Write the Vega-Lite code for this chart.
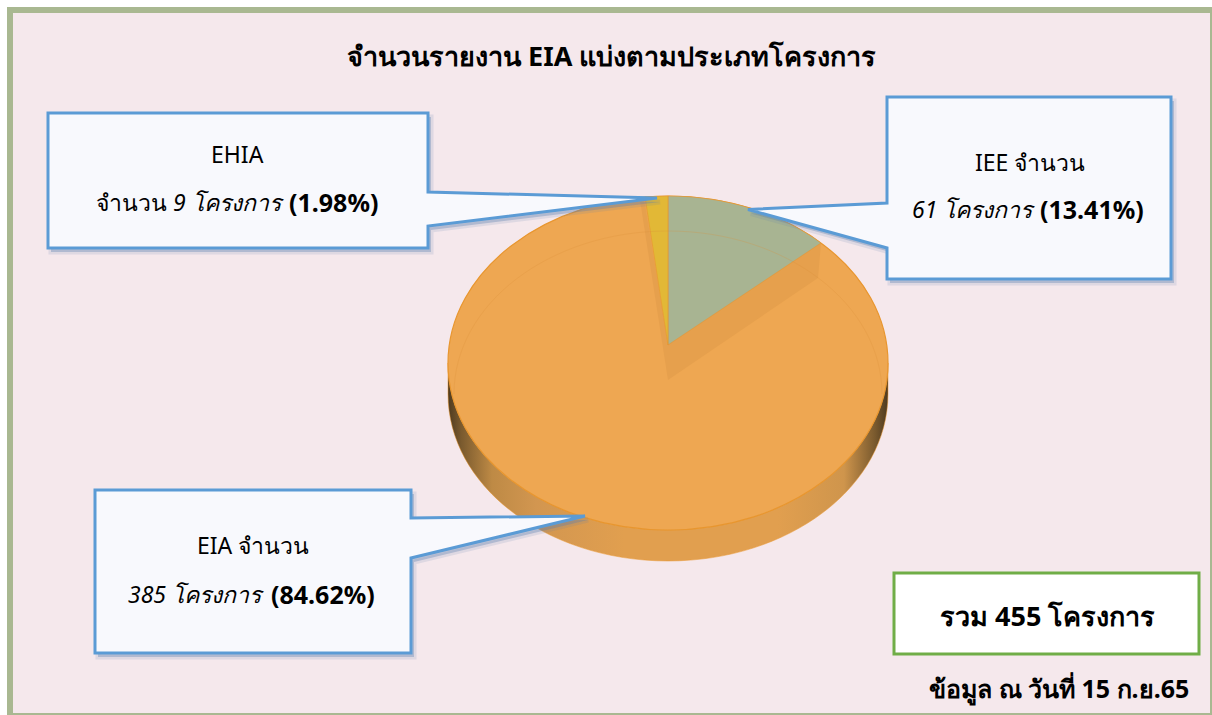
{"$schema":"https://vega.github.io/schema/vega-lite/v6.json","width":1212,"height":715,"autosize":{"type":"none"},"padding":0,"background":"#ffffff","config":{"view":{"stroke":null},"font":"Noto Sans"},
"datasets":{"parts":[
{"part":"frame"},{"part":"side"},{"part":"EIA","value":385,"pct":84.62},{"part":"wallR"},{"part":"wallL"},{"part":"IEE","value":61,"pct":13.41},{"part":"EHIA","value":9,"pct":1.98},{"part":"rim"},
{"part":"shEHIA"},{"part":"shIEE"},{"part":"shEIA"},{"part":"boxEHIA"},{"part":"boxIEE"},{"part":"boxEIA"},{"part":"boxTotal"}],
"texts":[
{"n":1,"s":"h","text":"จำนวนรายงาน EIA แบ่งตามประเภทโครงการ"},
{"n":2,"s":"r","text":"EHIA"},
{"n":3,"s":"r","text":"จำนวน"},
{"n":4,"s":"i","text":"9 โครงการ"},
{"n":5,"s":"b","text":"(1.98%)"},
{"n":6,"s":"r","text":"IEE จำนวน"},
{"n":7,"s":"i","text":"61 โครงการ"},
{"n":8,"s":"b","text":"(13.41%)"},
{"n":9,"s":"r","text":"EIA จำนวน"},
{"n":10,"s":"i","text":"385 โครงการ"},
{"n":11,"s":"b","text":"(84.62%)"},
{"n":12,"s":"t","text":"รวม 455 โครงการ"},
{"n":13,"s":"f","text":"ข้อมูล ณ วันที่ 15 ก.ย.65"}]},
"layer":[
{"data":{"name":"parts"},
"encoding":{"size":{"value":4},"shape":{"field":"part","type":"nominal","legend":null,"scale":{
"domain":["frame","side","EIA","wallR","wallL","IEE","EHIA","rim","shEHIA","shIEE","shEIA","boxEHIA","boxIEE","boxEIA","boxTotal"],
"range":[
"M-596,-347.5H607V358.5H-596Z",
"M-158,5.5A220,167 0 0,0 282,5.5L282,36.5A220,167 0 0,1 -158,36.5Z",
"M-158,5.5A220,167 0 1,1 282,5.5A220,167 0 1,1 -158,5.5Z",
"M62,-12.5L215,-114.5L212,-79.5L62,22.5Z",
"M38,-159.5L62,-12.5L62,22.5L34,-157.5Z",
"M62,-12.5L215,-114.5A220,167 0 0,0 62,-161.5Z",
"M62,-12.5L62,-161.5A220,167 0 0,0 39,-160.5Z",
"M-152,36.5A214,163 0 0,1 276,36.5",
"M-555,-240.5L-175,-240.5L-175,-161.5L54,-155.5L-175,-127.5L-175,-105.5L-555,-105.5Z",
"M284,-256.5L568,-256.5L568,-74.5L284,-74.5L284,-105.5L145,-144L284,-150.5Z",
"M-508,136.5L-192,136.5L-192,164.5L-18,162.5L-192,204.5L-192,299.5L-508,299.5Z",
"M-558,-244.5L-178,-244.5L-178,-165.5L51,-159.5L-178,-131.5L-178,-109.5L-558,-109.5Z",
"M281,-260.5L565,-260.5L565,-78.5L281,-78.5L281,-109.5L142,-148L281,-154.5Z",
"M-511,132.5L-195,132.5L-195,160.5L-21,158.5L-195,200.5L-195,295.5L-511,295.5Z",
"M288,215.5H593V296.5H288Z"]}}},
"layer":[
{"transform":[{"filter":{"field":"part","equal":"frame"}}],"mark":{"type":"point","filled":true,"opacity":1,"fill":"#F5E8EC","stroke":"#A9B891","strokeWidth":6}},
{"transform":[{"filter":{"field":"part","equal":"side"}}],"mark":{"type":"point","filled":true,"opacity":1,"stroke":"#E8962F","strokeWidth":0.5,"fill":{"gradient":"linear","x1":0,"y1":0,"x2":1,"y2":0,"stops":[{"offset":0,"color":"#4E3A1F"},{"offset":0.03,"color":"#7A5A2E"},{"offset":0.1,"color":"#BE8A45"},{"offset":0.2,"color":"#D29650"},{"offset":0.4,"color":"#E19F4F"},{"offset":0.75,"color":"#E19F4F"},{"offset":0.9,"color":"#CF954C"},{"offset":0.97,"color":"#7A5A2E"},{"offset":1,"color":"#4E3A1F"}]}}},
{"transform":[{"filter":{"field":"part","equal":"EIA"}}],"mark":{"type":"point","filled":true,"opacity":1,"fill":"#EEA752","stroke":"#E8962F","strokeWidth":1.2}},
{"transform":[{"filter":{"field":"part","oneOf":["wallR","wallL"]}}],"mark":{"type":"point","filled":true,"opacity":1,"fill":"#E6A04D"}},
{"transform":[{"filter":{"field":"part","equal":"IEE"}}],"mark":{"type":"point","filled":true,"opacity":1,"fill":"#A8B492","stroke":"#E8962F","strokeWidth":0.6}},
{"transform":[{"filter":{"field":"part","equal":"EHIA"}}],"mark":{"type":"point","filled":true,"opacity":1,"fill":"#E2B836","stroke":"#E8962F","strokeWidth":0.6}},
{"transform":[{"filter":{"field":"part","equal":"rim"}}],"mark":{"type":"point","filled":false,"opacity":0.25,"stroke":"#DD9038","strokeWidth":1}},
{"transform":[{"filter":{"field":"part","oneOf":["shEHIA","shIEE","shEIA"]}}],"mark":{"type":"point","filled":true,"opacity":1,"fill":"#5B7FAE","fillOpacity":0.35,"stroke":"#5B7FAE","strokeOpacity":0.15,"strokeWidth":5}},
{"transform":[{"filter":{"field":"part","oneOf":["boxEHIA","boxIEE","boxEIA"]}}],"mark":{"type":"point","filled":true,"opacity":1,"fill":"#F8F9FD","stroke":"#5B9BD5","strokeWidth":3,"strokeJoin":"miter"}},
{"transform":[{"filter":{"field":"part","equal":"boxTotal"}}],"mark":{"type":"point","filled":true,"opacity":1,"fill":"#FFFFFF","stroke":"#70AD47","strokeWidth":3,"strokeJoin":"miter"}}
]},
{"data":{"name":"texts"},
"encoding":{
"x":{"field":"n","type":"quantitative","axis":null,"scale":{"domain":[1,2,3,4,5,6,7,8,9,10,11,12,13],"range":[347,211,96,173,289,975,912,1040,197,128,271,940,929],"zero":false,"nice":false}},
"y":{"field":"n","type":"quantitative","axis":null,"scale":{"domain":[1,2,3,4,5,6,7,8,9,10,11,12,13],"range":[58,156,204,204,204,164,211,211,547,596,596,618,690],"zero":false,"nice":false}},
"text":{"field":"text","type":"nominal"}},
"layer":[
{"transform":[{"filter":{"field":"s","equal":"r"}}],"mark":{"type":"text","align":"left","baseline":"middle","fontSize":23,"color":"#000000","font":"Noto Sans"}},
{"transform":[{"filter":{"field":"s","equal":"i"}}],"mark":{"type":"text","align":"left","baseline":"middle","fontSize":23,"fontStyle":"italic","color":"#000000","font":"Noto Sans"}},
{"transform":[{"filter":{"field":"s","equal":"b"}}],"mark":{"type":"text","align":"left","baseline":"middle","fontSize":25,"fontWeight":"bold","color":"#000000","font":"Noto Sans"}},
{"transform":[{"filter":{"field":"s","equal":"h"}}],"mark":{"type":"text","align":"left","baseline":"middle","fontSize":27,"fontWeight":"bold","color":"#000000","font":"Noto Sans"}},
{"transform":[{"filter":{"field":"s","equal":"t"}}],"mark":{"type":"text","align":"left","baseline":"middle","fontSize":27,"fontWeight":"bold","color":"#000000","font":"Noto Sans"}},
{"transform":[{"filter":{"field":"s","equal":"f"}}],"mark":{"type":"text","align":"left","baseline":"middle","fontSize":25,"fontWeight":"bold","color":"#000000","font":"Noto Sans"}}
]}
]}
